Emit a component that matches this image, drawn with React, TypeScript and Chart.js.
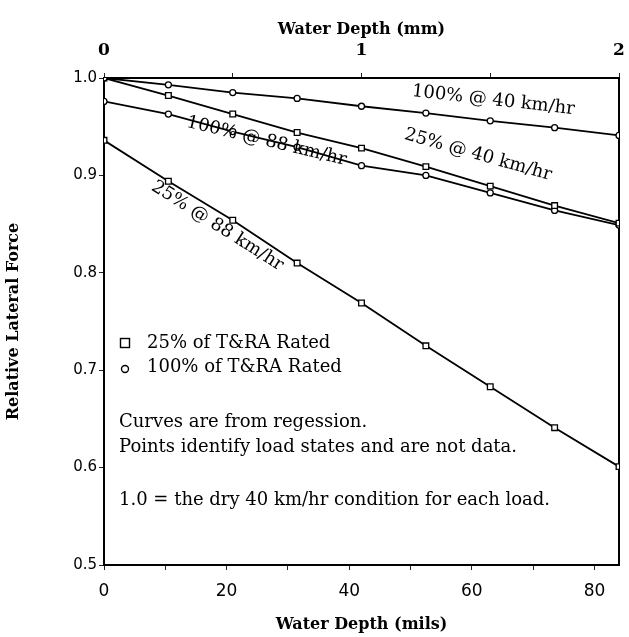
import React, { useEffect, useRef } from "react";
import { Chart, registerables } from "chart.js";

Chart.register(...registerables);

// Water depth at each marked load state (mm, top axis)
const depthMm = [0, 0.25, 0.5, 0.75, 1, 1.25, 1.5, 1.75, 2];
// Relative lateral force per series
const f100at40 = [1.0, 0.993, 0.985, 0.979, 0.971, 0.964, 0.956, 0.949, 0.941];
const f25at40 = [1.0, 0.982, 0.963, 0.944, 0.928, 0.909, 0.889, 0.869, 0.851];
const f100at88 = [0.976, 0.963, 0.945, 0.929, 0.91, 0.9, 0.882, 0.864, 0.849];
const f25at88 = [0.936, 0.894, 0.854, 0.81, 0.769, 0.725, 0.683, 0.641, 0.601];

const seriesNames = ["100% @ 40 km/hr", "25% @ 40 km/hr", "100% @ 88 km/hr", "25% @ 88 km/hr"];
const milsLabelTicks = [0, 20, 40, 60, 80];
const mmLabelTicks = [0, 1, 2];

const legendLines = ["25% of T&RA Rated", "100% of T&RA Rated"];
const noteLines = [
  "Curves are from regession.",
  "Points identify load states and are not data.",
  "1.0 = the dry 40 km/hr condition for each load.",
];

const SERIF = '"DejaVu Serif", "Liberation Serif", serif';
const SANS = '"DejaVu Sans", "Liberation Sans", sans-serif';
const INK = "#000";

export default function App() {
  const ref = useRef<HTMLCanvasElement | null>(null);

  useEffect(() => {
    if (!ref.current) return;
    const pts = (ys: number[]) => depthMm.map((x, i) => ({ x, y: ys[i] }));
    const square = { pointStyle: "rect", pointRadius: 4, pointBorderWidth: 1.3 };
    const circle = { pointStyle: "circle", pointRadius: 3, pointBorderWidth: 1.3 };
    const base = {
      showLine: true,
      borderColor: INK,
      borderWidth: 1.8,
      pointBorderColor: INK,
      pointBackgroundColor: "#fff",
      xAxisID: "xTop",
      yAxisID: "y",
    };

    const labelPlacement = [
      { idx: 0, x: 63.5, y: 0.977 },
      { idx: 1, x: 61, y: 0.921 },
      { idx: 2, x: 26.5, y: 0.935 },
      { idx: 3, x: 18.5, y: 0.848 },
    ];

    const annot = {
      id: "annot",
      afterDatasetsDraw(chart: any) {
        const { ctx, chartArea, scales } = chart;
        const xs = scales.x;
        const ys = scales.y;
        ctx.save();
        ctx.fillStyle = INK;
        ctx.strokeStyle = INK;
        ctx.font = `18px ${SERIF}`;
        ctx.textAlign = "center";
        ctx.textBaseline = "middle";
        labelPlacement.forEach((p) => {
          const meta = chart.getDatasetMeta(p.idx);
          const a = meta.data[0];
          const b = meta.data[meta.data.length - 1];
          const ang = Math.atan2(b.y - a.y, b.x - a.x);
          ctx.save();
          ctx.translate(xs.getPixelForValue(p.x), ys.getPixelForValue(p.y));
          ctx.rotate(ang);
          ctx.fillText(seriesNames[p.idx], 0, 0);
          ctx.restore();
        });
        // legend block
        const lx = chartArea.left + 21;
        ctx.font = `18px ${SERIF}`;
        ctx.textAlign = "left";
        ctx.textBaseline = "middle";
        ctx.lineWidth = 1.4;
        const ly1 = chartArea.top + 265;
        const ly2 = chartArea.top + 289;
        ctx.strokeRect(lx - 4.5, ly1 - 4.5, 9, 9);
        ctx.beginPath();
        ctx.arc(lx, ly2 + 2, 3.5, 0, Math.PI * 2);
        ctx.stroke();
        ctx.fillText(legendLines[0], lx + 22, ly1);
        ctx.fillText(legendLines[1], lx + 22, ly2);
        // notes
        const nx = chartArea.left + 15;
        ctx.fillText(noteLines[0], nx, chartArea.top + 344);
        ctx.fillText(noteLines[1], nx, chartArea.top + 369);
        ctx.fillText(noteLines[2], nx, chartArea.top + 422);
        ctx.restore();
      },
    };

    const tickGrid = {
      display: true,
      drawOnChartArea: false,
      drawTicks: true,
      tickLength: 5,
      color: "#222",
      lineWidth: 1,
    };

    const chart = new Chart(ref.current, {
      type: "scatter",
      data: {
        datasets: [
          { ...base, ...circle, label: seriesNames[0], data: pts(f100at40) },
          { ...base, ...square, label: seriesNames[1], data: pts(f25at40) },
          { ...base, ...circle, label: seriesNames[2], data: pts(f100at88) },
          { ...base, ...square, label: seriesNames[3], data: pts(f25at88) },
        ] as any,
      },
      options: {
        animation: false,
        responsive: false,
        layout: { padding: 0 },
        plugins: { legend: { display: false }, tooltip: { enabled: false } },
        scales: {
          x: {
            type: "linear",
            position: "bottom",
            min: 0,
            max: 84,
            ticks: {
              stepSize: 10,
              includeBounds: false,
              autoSkip: false,
              maxRotation: 0,
              color: INK,
              font: { family: SANS, size: 17 },
              padding: 11,
              callback: (v: any) => (milsLabelTicks.includes(v) ? String(v) : ""),
            },
            grid: tickGrid,
            border: { display: true, color: INK, width: 2 },
            title: {
              display: true,
              text: "Water Depth (mils)",
              color: INK,
              font: { family: SERIF, size: 16, weight: "bold" },
              padding: { top: 0, bottom: 3 },
            },
            afterFit: (s: any) => {
              s.height = 72;
              s.paddingLeft = 0;
              s.paddingRight = 0;
            },
          },
          xTop: {
            type: "linear",
            position: "top",
            min: 0,
            max: 2,
            ticks: {
              stepSize: 0.5,
              autoSkip: false,
              maxRotation: 0,
              color: INK,
              font: { family: SERIF, size: 17, weight: "bold" },
              padding: 12,
              callback: (v: any) => (mmLabelTicks.includes(v) ? String(v) : ""),
            },
            grid: tickGrid,
            border: { display: true, color: INK, width: 2 },
            title: {
              display: true,
              text: "Water Depth (mm)",
              color: INK,
              font: { family: SERIF, size: 16, weight: "bold" },
              padding: { top: 20, bottom: 0 },
            },
            afterFit: (s: any) => {
              s.height = 78;
              s.paddingLeft = 0;
              s.paddingRight = 0;
            },
          },
          y: {
            type: "linear",
            position: "left",
            min: 0.5,
            max: 1.0,
            ticks: {
              stepSize: 0.1,
              color: INK,
              font: { family: SANS, size: 15 },
              padding: 2,
              callback: (v: any) => Number(v).toFixed(1),
            },
            grid: tickGrid,
            border: { display: true, color: INK, width: 2 },
            title: {
              display: true,
              text: "Relative Lateral Force",
              color: INK,
              font: { family: SERIF, size: 16, weight: "bold" },
              padding: { top: 4, bottom: 0 },
            },
            afterFit: (s: any) => {
              s.width = 104;
            },
          },
          y2: {
            type: "linear",
            position: "right",
            min: 0.5,
            max: 1.0,
            ticks: { display: false },
            grid: { display: false, drawTicks: false },
            border: { display: true, color: INK, width: 2 },
            afterFit: (s: any) => {
              s.width = 10;
            },
          },
        },
      } as any,
      plugins: [annot],
    });
    return () => chart.destroy();
  }, []);

  return (
    <div style={{ position: "fixed", left: 0, top: 0, width: 629, height: 637, background: "#fff" }}>
      <canvas ref={ref} width={629} height={637} style={{ display: "block" }} />
    </div>
  );
}
